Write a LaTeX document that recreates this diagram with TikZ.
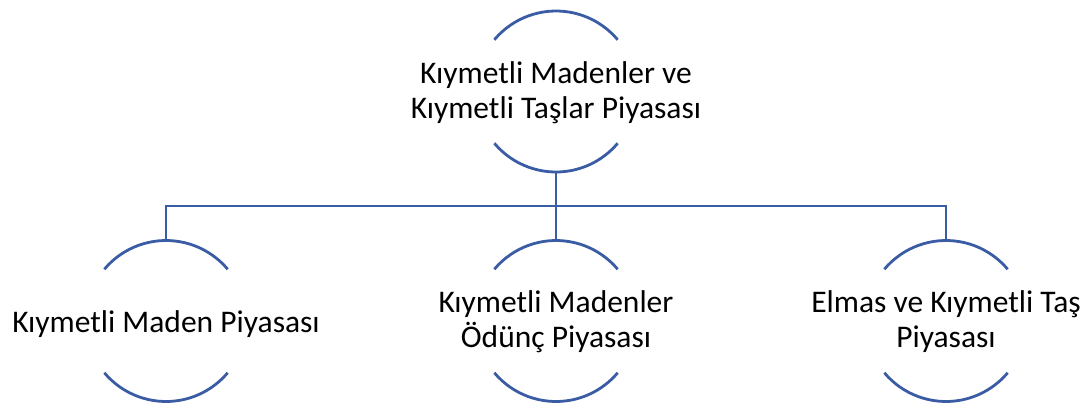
\documentclass[tikz,border=0pt]{standalone}
\usepackage{fontspec}
\setmainfont{Carlito}
\definecolor{linec}{HTML}{3A5CA4}
\begin{document}
\begin{tikzpicture}[x=1pt,y=-1pt,
  arcline/.style={draw=linec,line width=2.8pt},
  conn/.style={draw=linec,line width=2.8pt},
  lbl/.style={font=\fontsize{31.5}{35}\selectfont,align=center,text=black,inner sep=0pt}]
\useasboundingbox (0,0) rectangle (1091,410);
% centres
\coordinate (ct) at (556,91.5);
\coordinate (c1) at (166,321);
\coordinate (c2) at (556,321);
\coordinate (c3) at (946,321);
\foreach \c in {ct,c1,c2,c3}{
  \draw[arcline] (\c) ++(140:80.5) arc[start angle=140,end angle=40,radius=80.5];
  \draw[arcline] (\c) ++(220:80.5) arc[start angle=220,end angle=320,radius=80.5];
}
\node[lbl] (top) at (556,93) {Kıymetli Madenler ve\\Kıymetli Taşlar Piyasası};
\node[lbl] (n1) at (166,324) {Kıymetli Maden Piyasası};
\node[lbl] (n2) at (556,322) {Kıymetli Madenler\\Ödünç Piyasası};
\node[lbl] (n3) at (946,322) {Elmas ve Kıymetli Taş\\Piyasası};
\coordinate (tb) at (556,172);
\coordinate (b1) at (166,240.5);
\coordinate (b2) at (556,240.5);
\coordinate (b3) at (946,240.5);
\coordinate (bar) at (556,206);
\draw[conn] (tb) -- (bar);
\draw[conn] (b1) |- (bar) -| (b3);
\draw[conn] (bar) -- (b2);
\end{tikzpicture}
\end{document}
